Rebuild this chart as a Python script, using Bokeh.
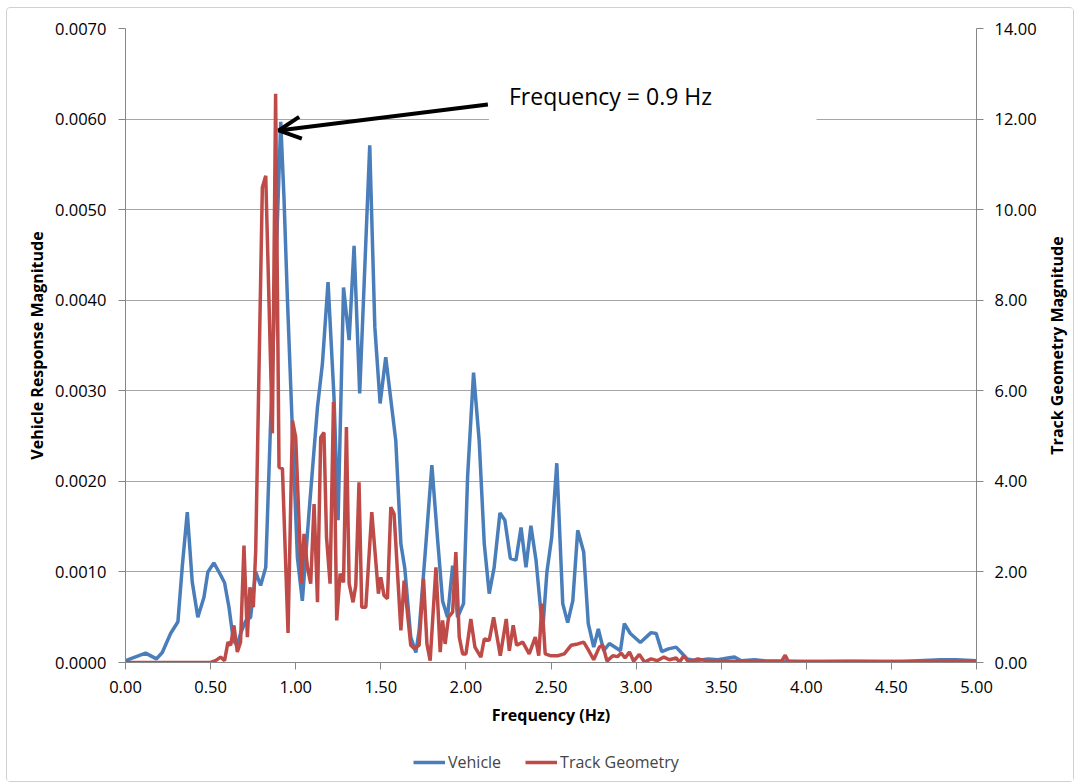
from bokeh.plotting import figure
from bokeh.layouts import column, row
from bokeh.models import (Range1d, LinearAxis, NumeralTickFormatter, FixedTicker,
                          Legend, LegendItem, Arrow, OpenHead, Label, BoxAnnotation)
from bokeh.embed import file_html
from bokeh.resources import INLINE

# ---------------- data ----------------
vehicle_freq = [0.000, 0.118, 0.182, 0.216, 0.265, 0.308, 0.334, 0.363, 0.392, 0.425,
                0.461, 0.484, 0.519, 0.555, 0.582, 0.608, 0.634, 0.657, 0.676, 0.706,
                0.735, 0.765, 0.794, 0.824, 0.912, 0.931, 0.951, 0.988, 1.010, 1.039,
                1.078, 1.128, 1.157, 1.190, 1.225, 1.249, 1.281, 1.314, 1.343, 1.376,
                1.435, 1.465, 1.496, 1.529, 1.588, 1.618, 1.641, 1.676, 1.706, 1.725,
                1.765, 1.800, 1.834, 1.863, 1.892, 1.922, 1.951, 1.986, 2.010, 2.045,
                2.078, 2.108, 2.137, 2.166, 2.200, 2.229, 2.261, 2.294, 2.324, 2.353,
                2.382, 2.412, 2.451, 2.476, 2.504, 2.534, 2.569, 2.598, 2.628, 2.657,
                2.692, 2.719, 2.751, 2.778, 2.810, 2.843, 2.908, 2.931, 2.966, 3.025,
                3.088, 3.118, 3.151, 3.190, 3.235, 3.265, 3.300, 3.353, 3.422, 3.481,
                3.539, 3.578, 3.618, 3.696, 3.755, 3.970, 4.260, 4.560, 4.790, 4.880,
                5.000]
vehicle_mag = [0.00002, 0.000103, 0.00004, 0.00011, 0.00032, 0.00045, 0.00107, 0.00166, 0.00089, 0.00050,
               0.00072, 0.00100, 0.00110, 0.00098, 0.00088, 0.00061, 0.00024, 0.00019, 0.00032, 0.00046,
               0.00050, 0.00100, 0.00085, 0.00105, 0.00597, 0.00514, 0.00403, 0.00220, 0.00116, 0.00068,
               0.00165, 0.00282, 0.00330, 0.00420, 0.00293, 0.00157, 0.00414, 0.00356, 0.00460, 0.00297,
               0.00571, 0.00370, 0.00286, 0.00337, 0.00245, 0.00131, 0.00104, 0.00028, 0.00011, 0.00035,
               0.00131, 0.00218, 0.00135, 0.00068, 0.00050, 0.00107, 0.00050, 0.00065, 0.00205, 0.00320,
               0.00245, 0.00131, 0.00076, 0.00105, 0.00165, 0.00157, 0.00115, 0.00113, 0.00149, 0.00105,
               0.00151, 0.00113, 0.00035, 0.00100, 0.00138, 0.00220, 0.00065, 0.00044, 0.00068, 0.00146,
               0.00122, 0.00043, 0.00017, 0.00037, 0.00013, 0.00021, 0.00013, 0.00043, 0.00032, 0.00022,
               0.00033, 0.00032, 0.00012, 0.00015, 0.00017, 0.00011, 0.00004, 0.00002, 0.00004, 0.00003,
               0.00005, 0.00006, 0.00002, 0.00003, 0.00002, 0.00001, 0.00001, 0.00001, 0.00003, 0.00003,
               0.00002]

track_freq = [0.000, 0.100, 0.200, 0.300, 0.400, 0.500, 0.529, 0.559, 0.582, 0.602,
              0.618, 0.637, 0.657, 0.676, 0.696, 0.716, 0.731, 0.751, 0.765, 0.804,
              0.824, 0.863, 0.882, 0.902, 0.922, 0.955, 0.981, 1.000, 1.034, 1.049,
              1.069, 1.088, 1.108, 1.128, 1.147, 1.166, 1.181, 1.202, 1.222, 1.241,
              1.261, 1.281, 1.298, 1.314, 1.337, 1.353, 1.372, 1.388, 1.412, 1.447,
              1.486, 1.500, 1.519, 1.539, 1.559, 1.578, 1.618, 1.637, 1.676, 1.696,
              1.725, 1.751, 1.771, 1.790, 1.824, 1.849, 1.863, 1.878, 1.898, 1.922,
              1.941, 1.961, 1.981, 2.000, 2.029, 2.053, 2.088, 2.108, 2.137, 2.163,
              2.202, 2.237, 2.255, 2.278, 2.298, 2.334, 2.372, 2.408, 2.428, 2.447,
              2.466, 2.496, 2.539, 2.578, 2.618, 2.657, 2.692, 2.716, 2.751, 2.784,
              2.804, 2.829, 2.863, 2.892, 2.912, 2.935, 2.961, 2.986, 3.019, 3.049,
              3.088, 3.124, 3.163, 3.196, 3.235, 3.255, 3.281, 3.308, 3.363, 3.422,
              3.560, 3.735, 3.853, 3.876, 3.894, 4.090, 4.260, 4.440, 4.680, 5.000]
track_mag = [0.00, 0.00, 0.00, 0.00, 0.00, 0.00, 0.04, 0.12, 0.04, 0.45,
             0.38, 0.82, 0.23, 0.45, 2.58, 0.56, 1.66, 1.22, 2.47, 10.49,
             10.75, 5.06, 12.56, 4.31, 4.28, 0.65, 5.34, 4.97, 1.74, 2.84,
             2.10, 1.74, 3.50, 1.33, 4.97, 5.08, 2.77, 1.74, 5.75, 0.93,
             1.96, 1.77, 5.20, 1.74, 1.33, 1.70, 3.98, 1.22, 1.22, 3.32,
             1.52, 1.88, 1.48, 1.41, 3.43, 3.28, 0.71, 1.81, 0.38, 0.31,
             0.38, 1.85, 0.41, 0.04, 2.10, 0.23, 0.93, 0.41, 1.00, 1.11,
             2.44, 0.56, 0.19, 0.19, 0.96, 0.34, 0.12, 0.52, 0.49, 1.00,
             0.15, 0.96, 0.26, 0.82, 0.38, 0.45, 0.19, 0.56, 0.15, 1.30,
             0.19, 0.15, 0.15, 0.19, 0.38, 0.41, 0.45, 0.30, 0.06, 0.34,
             0.38, 0.03, 0.15, 0.13, 0.21, 0.10, 0.23, 0.03, 0.18, 0.01,
             0.08, 0.04, 0.12, 0.06, 0.10, 0.01, 0.15, 0.01, 0.08, 0.03,
             0.03, 0.02, 0.02, 0.16, 0.02, 0.02, 0.03, 0.02, 0.02, 0.02]

x_ticks = [0.0, 0.5, 1.0, 1.5, 2.0, 2.5, 3.0, 3.5, 4.0, 4.5, 5.0]
left_ticks = [0.0, 0.001, 0.002, 0.003, 0.004, 0.005, 0.006, 0.007]
right_ticks = [0, 2, 4, 6, 8, 10, 12, 14]

series_names = ["Vehicle", "Track Geometry"]
annotation_text = "Frequency = 0.9 Hz"
peak_freq = 0.9
peak_vehicle = 0.005874

# ---------------- styling ----------------
FONT = "Open Sans"
BLUE = "#4a7ebb"
RED = "#be4b48"
AXIS_GRAY = "#868686"
GRID_GRAY = "#a6a6a6"
LW = 3.5

MAIN_H = 724

p = figure(width=1035, height=MAIN_H, output_backend="svg", toolbar_location=None,
           x_range=Range1d(0, 5), y_range=Range1d(0, 0.007),
           min_border_left=118, min_border_right=66, min_border_top=20,
           min_border_bottom=70, outline_line_color=None)
p.extra_y_ranges = {"track": Range1d(0, 14)}

p.xgrid.visible = False
p.ygrid.ticker = FixedTicker(ticks=left_ticks)
p.ygrid.grid_line_color = GRID_GRAY
p.ygrid.grid_line_width = 1


def style_axis(ax, ticks, fmt):
    ax.ticker = FixedTicker(ticks=ticks)
    ax.formatter = NumeralTickFormatter(format=fmt)
    ax.axis_line_color = AXIS_GRAY
    ax.major_tick_line_color = AXIS_GRAY
    ax.minor_tick_line_color = None
    ax.major_tick_in = 0
    ax.major_tick_out = 7
    ax.major_label_text_font = FONT
    ax.major_label_text_font_size = "16.5px"
    ax.major_label_text_color = "#000000"
    ax.axis_label_text_font = FONT
    ax.axis_label_text_font_size = "16px"
    ax.axis_label_text_font_style = "bold"
    ax.axis_label_text_color = "#000000"


xa = p.xaxis[0]
style_axis(xa, x_ticks, "0.00")
xa.axis_label = "Frequency (Hz)"
xa.major_label_standoff = 11
xa.axis_label_standoff = 8

ya = p.yaxis[0]
style_axis(ya, left_ticks, "0.0000")
ya.axis_label = "Vehicle Response Magnitude"
ya.major_label_standoff = 12
ya.axis_label_standoff = 4

ra = LinearAxis(y_range_name="track")
style_axis(ra, right_ticks, "0.00")
ra.major_label_standoff = 11
p.add_layout(ra, "right")

# white box behind the annotation text
p.add_layout(BoxAnnotation(left=2.135, right=4.06, bottom=0.0059, top=0.0065,
                           fill_color="white", fill_alpha=1.0, line_color=None,
                           level="underlay"))

r_v = p.line(vehicle_freq, vehicle_mag, line_color=BLUE, line_width=LW)
r_t = p.line(track_freq, track_mag, line_color=RED, line_width=LW, y_range_name="track")

p.add_layout(Label(x=2.253, y=0.00626, text=annotation_text, text_font=FONT,
                   text_font_size="23px", text_color="#000000", text_baseline="middle"))
p.add_layout(Arrow(end=OpenHead(size=22, line_width=4, line_color="black"),
                   x_start=2.129, y_start=0.00616, x_end=peak_freq, y_end=peak_vehicle,
                   line_width=4, line_color="black"))

# right-hand axis title (reads bottom-to-top like the reference)
p_r = figure(width=31, height=MAIN_H, output_backend="svg", toolbar_location=None,
             x_axis_location=None, x_range=Range1d(0, 1), y_range=Range1d(0, 14),
             min_border_left=23, min_border_right=0, min_border_top=20,
             min_border_bottom=70, outline_line_color=None)
p_r.grid.visible = False
ax_r = p_r.yaxis[0]
ax_r.ticker = FixedTicker(ticks=[7])
ax_r.major_label_overrides = {7: ""}
ax_r.axis_line_color = None
ax_r.major_tick_line_color = None
ax_r.minor_tick_line_color = None
ax_r.major_tick_out = 0
ax_r.major_tick_in = 0
ax_r.major_label_standoff = 0
ax_r.axis_label = "Track Geometry Magnitude"
ax_r.axis_label_standoff = 4
ax_r.axis_label_text_font = FONT
ax_r.axis_label_text_font_size = "16px"
ax_r.axis_label_text_font_style = "bold"
ax_r.axis_label_text_color = "#000000"
# the track series drawn far outside this strip's view (clipped) so the axis has a renderer
p_r.line(track_freq, track_mag, line_color=RED, line_alpha=0)

# legend strip below the chart; series drawn out of view so the legend has renderers
p_leg = figure(width=1066, height=49, output_backend="svg", toolbar_location=None,
               x_axis_location=None, y_axis_location=None, min_border=0,
               x_range=Range1d(0, 5), y_range=Range1d(-200, -100),
               outline_line_color=None)
p_leg.grid.visible = False
lg_v = p_leg.line(vehicle_freq, vehicle_mag, line_color=BLUE, line_width=LW)
lg_t = p_leg.line(track_freq, track_mag, line_color=RED, line_width=LW)
legend = Legend(items=[LegendItem(label=series_names[0], renderers=[lg_v]),
                       LegendItem(label=series_names[1], renderers=[lg_t])],
                orientation="horizontal", location=(406, 8),
                border_line_color=None, background_fill_alpha=0,
                label_text_font=FONT, label_text_font_size="16px",
                glyph_width=32, glyph_height=20, label_height=20,
                label_standoff=3, spacing=24, padding=0, margin=0)
p_leg.add_layout(legend)

layout = column(row(p, p_r), p_leg,
                styles={"margin-left": "6px", "margin-top": "7px",
                        "border": "1px solid #d0d0d0", "border-radius": "4px"})

open("out.html", "w").write(file_html(layout, INLINE))
